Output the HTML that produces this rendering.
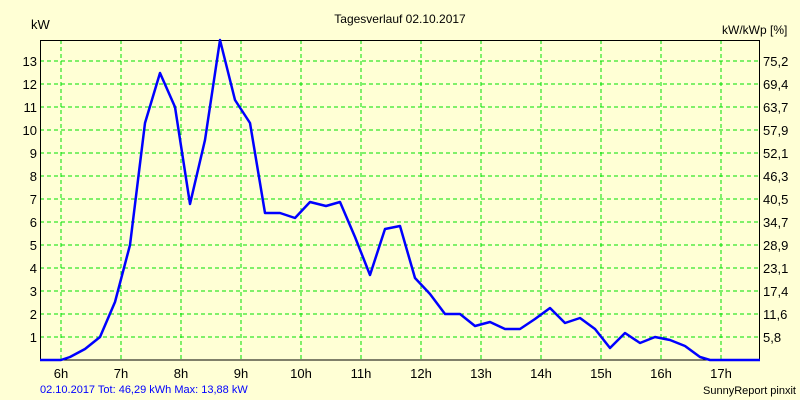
<!DOCTYPE html>
<html><head><meta charset="utf-8"><style>
html,body{margin:0;padding:0;background:#ffffd5;}
svg{display:block;font-family:"Liberation Sans",sans-serif;}
</style></head><body>
<svg width="800" height="400" viewBox="0 0 800 400">
<rect width="800" height="400" fill="#ffffd5"/>
<g stroke="#00e000" stroke-dasharray="4,3" stroke-width="1">
<line x1="61" y1="40" x2="61" y2="360"/><line x1="121" y1="40" x2="121" y2="360"/><line x1="181" y1="40" x2="181" y2="360"/><line x1="241" y1="40" x2="241" y2="360"/><line x1="301" y1="40" x2="301" y2="360"/><line x1="361" y1="40" x2="361" y2="360"/><line x1="421" y1="40" x2="421" y2="360"/><line x1="481" y1="40" x2="481" y2="360"/><line x1="541" y1="40" x2="541" y2="360"/><line x1="601" y1="40" x2="601" y2="360"/><line x1="661" y1="40" x2="661" y2="360"/><line x1="721" y1="40" x2="721" y2="360"/>
<line x1="40" y1="337" x2="760" y2="337"/><line x1="40" y1="314" x2="760" y2="314"/><line x1="40" y1="291" x2="760" y2="291"/><line x1="40" y1="268" x2="760" y2="268"/><line x1="40" y1="245" x2="760" y2="245"/><line x1="40" y1="222" x2="760" y2="222"/><line x1="40" y1="199" x2="760" y2="199"/><line x1="40" y1="176" x2="760" y2="176"/><line x1="40" y1="153" x2="760" y2="153"/><line x1="40" y1="130" x2="760" y2="130"/><line x1="40" y1="107" x2="760" y2="107"/><line x1="40" y1="84" x2="760" y2="84"/><line x1="40" y1="61" x2="760" y2="61"/>
</g>
<rect x="40.5" y="40.5" width="719" height="319.5" fill="none" stroke="#000" stroke-width="1"/>
<polyline fill="none" stroke="#0000ff" stroke-width="2.5" stroke-linejoin="round" points="40,360 61,360 70,357 85,349 100,337 115,302 130,245 145,123 160,73 175,107 190,204 205,140 220,40 235,100 250,123 265,213 280,213 295,218 310,202 326,206 340,202 355,237 370,275 385,229 400,226 415,278 430,294 445,314 460,314 475,326 490,322 505,329 520,329 535,319 550,308 565,323 580,318 595,329 610,348 625,333 640,343 655,337 670,340 685,346 700,357 710,360 760,360"/>
<g font-size="13" fill="#000">
<text x="400" y="23" text-anchor="middle" font-size="12">Tagesverlauf 02.10.2017</text>
<text x="31" y="29">kW</text>
<text x="722" y="34" font-size="12">kW/kWp [%]</text>
<g text-anchor="end">
<text x="37" y="342">1</text><text x="37" y="319">2</text><text x="37" y="296">3</text><text x="37" y="273">4</text><text x="37" y="250">5</text><text x="37" y="227">6</text><text x="37" y="204">7</text><text x="37" y="181">8</text><text x="37" y="158">9</text><text x="37" y="135">10</text><text x="37" y="112">11</text><text x="37" y="89">12</text><text x="37" y="66">13</text>
</g>
<g>
<text x="763" y="342">5,8</text><text x="763" y="319">11,6</text><text x="763" y="296">17,4</text><text x="763" y="273">23,1</text><text x="763" y="250">28,9</text><text x="763" y="227">34,7</text><text x="763" y="204">40,5</text><text x="763" y="181">46,3</text><text x="763" y="158">52,1</text><text x="763" y="135">57,9</text><text x="763" y="112">63,7</text><text x="763" y="89">69,4</text><text x="763" y="66">75,2</text>
</g>
<g text-anchor="middle">
<text x="61" y="378">6h</text><text x="121" y="378">7h</text><text x="181" y="378">8h</text><text x="241" y="378">9h</text><text x="301" y="378">10h</text><text x="361" y="378">11h</text><text x="421" y="378">12h</text><text x="481" y="378">13h</text><text x="541" y="378">14h</text><text x="601" y="378">15h</text><text x="661" y="378">16h</text><text x="721" y="378">17h</text>
</g>
<text x="40" y="393" font-size="11" fill="#0000ff">02.10.2017 Tot: 46,29 kWh Max: 13,88 kW</text>
<text x="796" y="394" font-size="11" text-anchor="end">SunnyReport pinxit</text>
</g>
</svg>
</body></html>
